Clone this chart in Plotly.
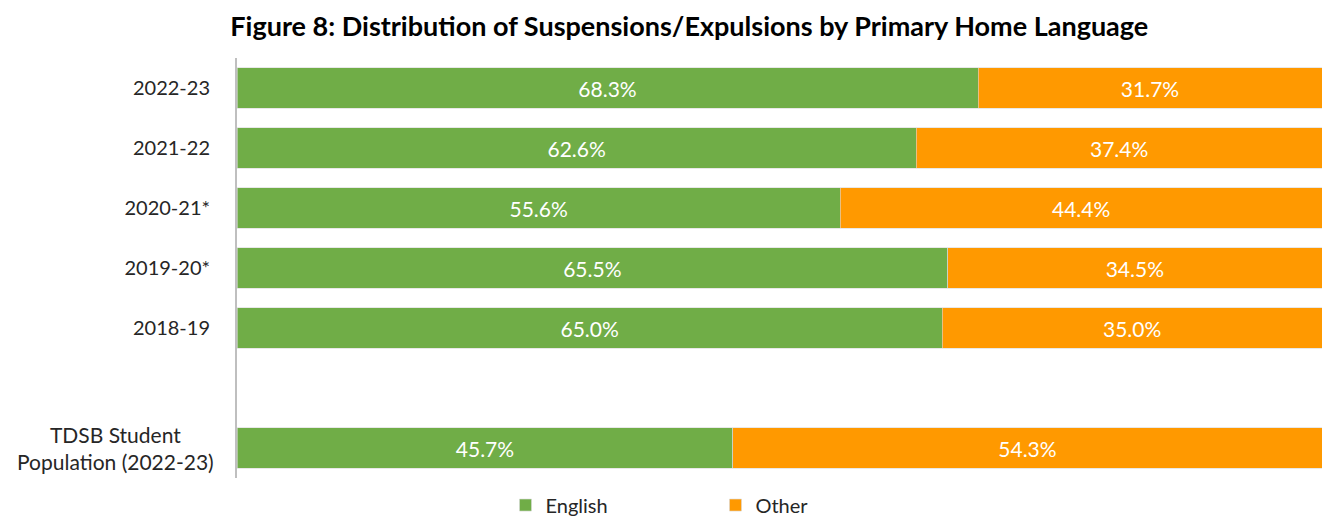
import plotly.graph_objects as go

categories = ["2022-23", "2021-22", "2020-21*", "2019-20*", "2018-19", " ", "TDSB Student<br>Population (2022-23)"]
tick_labels = ["2022-23", "2021-22", "2020-21*", "2019-20*", "2018-19", "", ""]
english = [68.3, 62.6, 55.6, 65.5, 65.0, None, 45.7]
other = [31.7, 37.4, 44.4, 34.5, 35.0, None, 54.3]

FONT = "Lato"

def labels(vals):
    return [("" if v is None else f"{v:.1f}%") for v in vals]

fig = go.Figure()
fig.add_trace(go.Bar(
    y=categories, x=english, name="English", orientation="h",
    marker=dict(color="#70AD47", line=dict(color="#d9d9d9", width=0.6)),
    text=labels(english), textposition="inside", insidetextanchor="middle",
    textfont=dict(color="white", size=21, family=FONT),
))
fig.add_trace(go.Bar(
    y=categories, x=other, name="Other", orientation="h",
    marker=dict(color="#FF9900", line=dict(color="#d9d9d9", width=0.6)),
    text=labels(other), textposition="inside", insidetextanchor="middle",
    textfont=dict(color="white", size=21, family=FONT),
))

fig.add_annotation(
    x=-0.0194, xref="paper", xanchor="right",
    y=categories[-1], yref="y", yanchor="middle",
    text=categories[-1], align="center", showarrow=False,
    font=dict(size=21, color="#262626", family=FONT),
)

fig.update_layout(
    barmode="stack",
    bargap=0.33,
    width=1323, height=516,
    paper_bgcolor="white", plot_bgcolor="white",
    margin=dict(l=237, r=1, t=58, b=38, autoexpand=False),
    font=dict(family=FONT, size=20, color="#262626"),
    title=dict(
        text="<b>Figure 8: Distribution of Suspensions/Expulsions by Primary Home Language</b>",
        x=0.521, xanchor="center", y=0.948, yanchor="middle",
        font=dict(size=27, color="#000000", family=FONT),
    ),
    xaxis=dict(range=[0, 100], visible=False, fixedrange=True),
    yaxis=dict(
        categoryorder="array", categoryarray=categories, autorange="reversed",
        tickmode="array", tickvals=categories, ticktext=tick_labels,
        showline=True, linecolor="#bfbfbf", linewidth=2,
        ticks="", ticklabelstandoff=21, showgrid=False,
        tickfont=dict(size=20, color="#262626", family=FONT),
    ),
    legend=dict(
        orientation="h", x=0.441, xanchor="center", y=-0.018, yanchor="top",
        font=dict(size=20, color="#262626", family=FONT), itemwidth=30,
        traceorder="normal", entrywidth=165,
    ),
    uniformtext=dict(mode="show", minsize=10),
)

fig.write_html("out.html", config={"displayModeBar": False},
               post_script="document.body.style.margin='0';document.body.style.overflow='hidden';")
